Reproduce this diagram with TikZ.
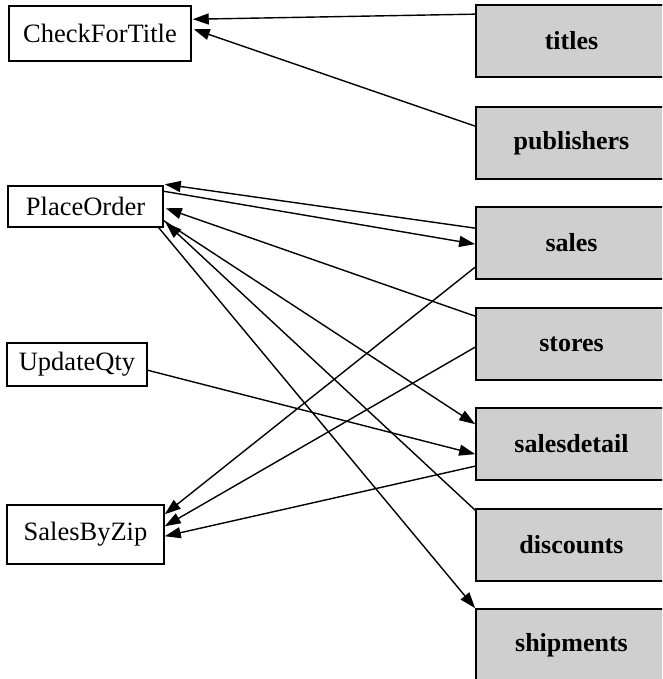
\documentclass[tikz,border=0pt]{standalone}
\usepackage{fontspec}
\setmainfont{Liberation Serif}
\usetikzlibrary{arrows.meta}
\begin{document}
\begin{tikzpicture}[x=1pt,y=-1pt,
  proc/.style={draw=black,line width=1.5pt,fill=white,inner sep=0pt,
    font=\fontsize{26.5}{30}\selectfont},
  tbl/.style={draw=black,line width=1.7pt,fill=black!19,inner sep=0pt,
    minimum width=191pt,minimum height=72pt,
    font=\fontsize{26}{30}\selectfont\bfseries},
  link/.style={line width=1.4pt,-{Triangle[length=16pt,width=11pt]}}]
\useasboundingbox (0,0) rectangle (662,679);
\clip (0,0) rectangle (662,679);

% stored procedures
\node[proc,minimum width=182pt,minimum height=55pt] (chk) at (100,33.5) {CheckForTitle};
\node[proc,minimum width=155pt,minimum height=41pt] (place) at (85.5,206.5) {PlaceOrder};
\node[proc,minimum width=140pt,minimum height=43pt] (upd) at (77,364.5) {UpdateQty};
\node[proc,minimum width=157pt,minimum height=59pt] (zip) at (85.5,534.5) {SalesByZip};

% tables
\node[tbl] (titles) at (571.5,41) {titles};
\node[tbl] (pub) at (571.5,143) {publishers};
\node[tbl] (sales) at (571.5,243) {sales};
\node[tbl] (stores) at (571.5,344) {stores};
\node[tbl] (sdet) at (571.5,444) {salesdetail};
\node[tbl] (disc) at (571.5,545) {discounts};
\node[tbl] (ship) at (571.5,645) {shipments};

% dependencies
\draw[link] ([yshift=-10pt]titles.north west) -- ([yshift=-14pt,xshift=1pt]chk.north east);
\draw[link] ([yshift=-20pt]pub.north west) -- ([yshift=-24pt,xshift=2pt]chk.north east);

\draw[link] ([yshift=-22pt]sales.north west) -- ([yshift=1pt,xshift=1pt]place.north east);
\draw[link] ([yshift=-6pt]place.north east) -- ([yshift=-38pt]sales.north west);
\draw[link] ([yshift=-9pt]stores.north west) -- ([yshift=-23pt,xshift=2pt]place.north east);
\draw[link] ([yshift=7pt]place.south east) -- ([yshift=-17pt]sdet.north west);
\draw[link] ([yshift=-2pt]disc.north west) -- ([yshift=5pt,xshift=2pt]place.south east);
\draw[link] ([xshift=-5pt]place.south east) -- (ship.north west);

\draw[link] ([yshift=-28pt]upd.north east) -- ([yshift=-47pt]sdet.north west);

\draw[link] ([yshift=-61pt]sales.north west) -- ([yshift=-10pt]zip.north east);
\draw[link] ([yshift=-40pt]stores.north west) -- ([yshift=-22pt]zip.north east);
\draw[link] ([yshift=-59pt]sdet.north west) -- ([yshift=-32pt]zip.north east);
\end{tikzpicture}
\end{document}
